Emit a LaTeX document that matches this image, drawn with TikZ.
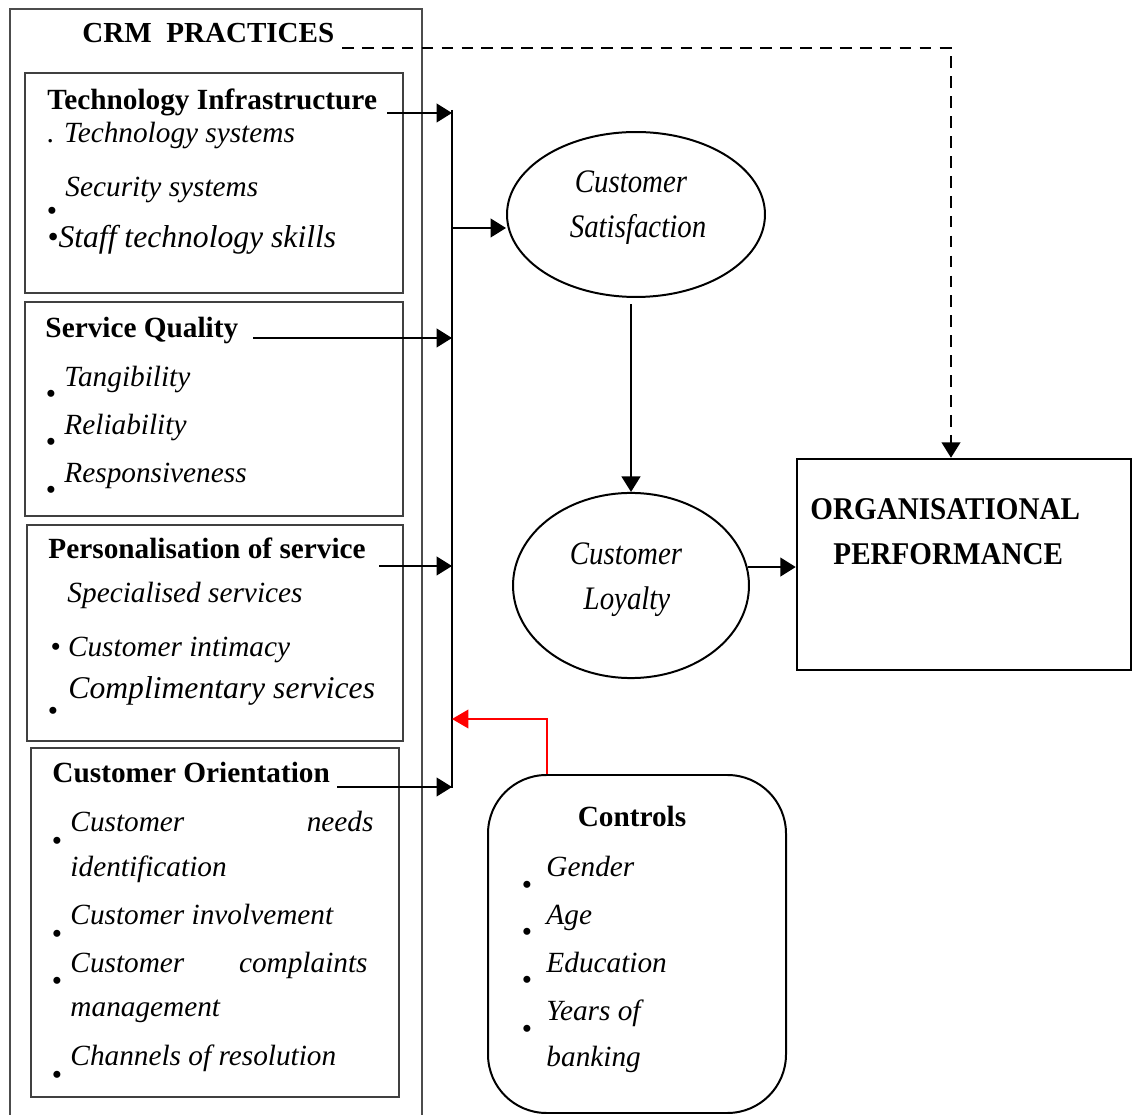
\documentclass[tikz,border=0pt]{standalone}
\usepackage{fontspec}
\setmainfont{Liberation Serif}
\newfontfamily\narrowfont[FakeStretch=0.88]{Liberation Serif}
\newfontfamily\perffont[FakeStretch=0.92]{Liberation Serif}
\usepackage{tikz}
\usetikzlibrary{arrows.meta, shapes.geometric, fit, positioning}

\tikzset{
  txt/.style={inner sep=0pt, anchor=base west, font=\fontsize{12.5}{15}\selectfont},
  head/.style={txt, font=\fontsize{12.5}{15}\selectfont\bfseries},
  item/.style={txt, font=\fontsize{12.5}{15}\selectfont\itshape},
  bigitem/.style={txt, font=\fontsize{13.5}{16}\selectfont\itshape},
  bul/.style={inner sep=0pt, anchor=base, text height=0pt, text depth=0pt, font=\fontsize{12.5}{15}\selectfont},
  panel/.style={draw=black!75, line width=0.6pt, inner sep=0pt},
  link/.style={->, line width=0.85pt},
  etxt/.style={inner sep=0pt, anchor=base, font=\narrowfont\fontsize{14}{16}\selectfont\itshape},
  ptxt/.style={inner sep=0pt, anchor=base west, font=\perffont\fontsize{13.5}{16}\selectfont\bfseries},
}

\begin{document}
\begin{tikzpicture}[x=0.015cm, y=-0.015cm, >={Triangle[length=6.6pt, width=8pt]}]
    \useasboundingbox (0,0) rectangle (1139,1115);

    % 1. Outer frame of the CRM practices
    \draw[black!70, line width=0.6pt] (10,1115) |- (422,9) -- (422,1115);
    \node[head, font=\fontsize{12.4}{14}\selectfont\bfseries] (crm) at (82,43) {CRM\ \ PRACTICES};

    % 2. The four groups
    \node[panel, fit={(25,73) (403,293)}] (techBox) {};
    \node[panel, fit={(25,302) (403,516)}] (servBox) {};
    \node[panel, fit={(27,525) (403,741)}] (persBox) {};
    \node[panel, fit={(31,748) (399,1097)}] (orientBox) {};

    % Technology Infrastructure (bullets set on their own baseline)
    \node[head] (tiHead) at (47,110) {Technology Infrastructure};
    \node[item] (tiA) at (47,143) {.\hspace{4pt}Technology systems};
    \node[item] (tiB) at (65,197) {Security systems};
    \node[bul] (tiDotB) at (52,221) {•};
    \node[bigitem] (tiC) at (47,248) {•Staff technology skills};

    % Service Quality
    \node[head] (sqHead) at (45,338) {Service Quality};
    \node[item] (sqA) at (64,387) {Tangibility};
    \node[item] (sqB) at (64,435) {Reliability};
    \node[item] (sqC) at (64,483) {Responsiveness};
    \node[bul] (sqDotA) at (51,404) {•};
    \node[bul] (sqDotB) at (51,452) {•};
    \node[bul] (sqDotC) at (51,500) {•};

    % Personalisation of service
    \node[head] (psHead) at (48,559) {Personalisation of service};
    \node[item] (psA) at (67,603) {Specialised services};
    \node[item] (psB) at (50,657) {• Customer intimacy};
    \node[bigitem] (psC) at (68,699) {Complimentary services};
    \node[bul] (psDotC) at (53,721) {•};

    % Customer Orientation
    \node[head] (coHead) at (52,783) {Customer Orientation};
    \node[item] (coA) at (70,832) {\makebox[129.3pt][s]{Customer needs}};
    \node[item] (coB) at (70,877) {identification};
    \node[item] (coC) at (70,925) {Customer involvement};
    \node[item] (coD) at (70,973) {\makebox[126.8pt][s]{Customer complaints}};
    \node[item] (coE) at (70,1017) {management};
    \node[item] (coF) at (70,1065) {Channels of resolution};
    \node[bul] (coDotA) at (57,850) {•};
    \node[bul] (coDotC) at (57,943) {•};
    \node[bul] (coDotD) at (57,991) {•};
    \node[bul] (coDotF) at (57,1084) {•};

    % 3. Collecting line and the arrows into it
    \coordinate (busTop) at (452,110);
    \coordinate (busBot) at (452,788);
    \draw[line width=0.85pt] (busTop) -- (busBot);
    \coordinate (tiOut) at (387,113);
    \coordinate (sqOut) at (253,338);
    \coordinate (psOut) at (379,566);
    \coordinate (coOut) at (337,787);
    \foreach \p in {tiOut, sqOut, psOut, coOut}
        \draw[link] (\p) -- (\p -| busTop);

    % 4. Satisfaction and loyalty
    \node[draw, ellipse, line width=0.85pt, inner sep=0pt, minimum width=110.1pt, minimum height=70.4pt] (sat) at (636,214.5) {};
    \node[etxt] (satA) at (631,193) {Customer};
    \node[etxt] (satB) at (638,238) {Satisfaction};
    \coordinate (busSat) at (452,228);
    \draw[link] (busSat) -- (busSat -| sat.west);

    \node[draw, ellipse, line width=0.85pt, inner sep=0pt, minimum width=100.7pt, minimum height=79pt] (loy) at (631,585.5) {};
    \node[etxt] (loyA) at (626,565) {Customer};
    \node[etxt] (loyB) at (627,610) {Loyalty};
    \draw[link, shorten <=2.6pt] (sat.south -| loy.north) -- (loy.north);

    % 5. Organisational performance
    \node[draw, line width=1.05pt, inner sep=0pt, fit={(797,459) (1131,670)}] (perf) {};
    \node[ptxt] (perfA) at (810,520) {ORGANISATIONAL};
    \node[ptxt] (perfB) at (833,565) {PERFORMANCE};
    \draw[link] (loy.9) -- (loy.9 -| perf.west);

    \coordinate (crmOut) at (342,48);
    \coordinate (dashTurn) at (951,48);
    \draw[link, dash pattern=on 5pt off 3.5pt] (crmOut) -- (dashTurn) -- (dashTurn |- perf.north);

    % 6. Controls
    \node[draw, line width=0.85pt, rounded corners=25pt, inner sep=0pt, fit={(488,775) (786,1113)}] (ctrl) {};
    \node[head, anchor=base] (ctrlHead) at (632,827) {Controls};
    \node[item] (ctA) at (546,877) {Gender};
    \node[item] (ctB) at (546,925) {Age};
    \node[item] (ctC) at (546,972) {Education};
    \node[item] (ctD) at (546,1020) {Years of};
    \node[item] (ctE) at (546,1067) {banking};
    \node[bul] (ctDotA) at (527,894) {•};
    \node[bul] (ctDotB) at (527,942) {•};
    \node[bul] (ctDotC) at (527,990) {•};
    \node[bul] (ctDotD) at (527,1038) {•};

    \coordinate (redTurn) at (547,719);
    \draw[link, red, line width=0.65pt, >={Triangle[length=7pt, width=8pt]}] (redTurn |- ctrl.north) -- (redTurn) -- (redTurn -| busTop);
\end{tikzpicture}
\end{document}
